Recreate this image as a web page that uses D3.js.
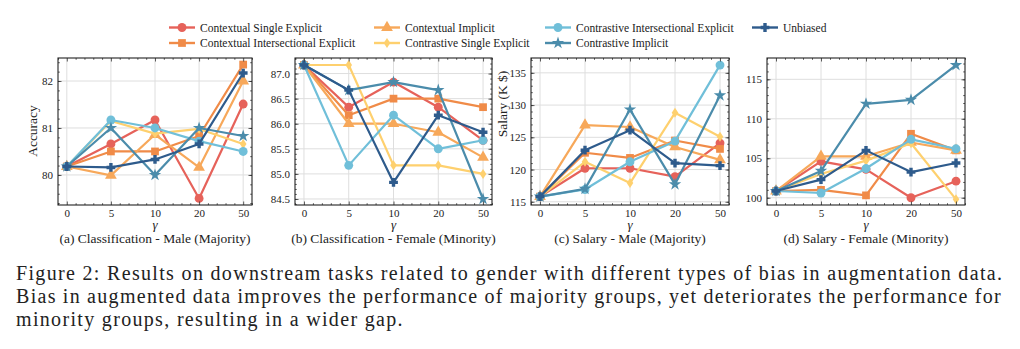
<!DOCTYPE html>
<html>
<head>
<meta charset="utf-8">
<script src="https://cdn.jsdelivr.net/npm/d3@7"></script>
<style>
  body { margin: 0; background: #fff; }
  text { font-family: "Liberation Serif", "DejaVu Serif", serif; fill: #222; }
</style>
</head>
<body>
<div id="chart"></div>
<script>
// data
var gammas = ["0", "5", "10", "20", "50"];
var seriesNames = [
  "Contextual Single Explicit",
  "Contextual Intersectional Explicit",
  "Contextual Implicit",
  "Contrastive Single Explicit",
  "Contrastive Intersectional Explicit",
  "Contrastive Implicit",
  "Unbiased"
];
// one row per series, one value per gamma
var clsMale = [
  [80.18, 80.66, 81.17, 79.50, 81.51],
  [80.18, 80.50, 80.50, 80.83, 82.35],
  [80.18, 79.99, 80.86, 80.16, 82.00],
  [80.18, 81.15, 80.88, 80.98, 80.66],
  [80.18, 81.17, 81.00, 80.72, 80.50],
  [80.18, 81.00, 80.00, 81.00, 80.83],
  [80.18, 80.16, 80.33, 80.66, 82.17]
];
var clsFemale = [
  [87.17, 86.33, 86.83, 86.33, 85.67],
  [87.17, 86.17, 86.50, 86.50, 86.33],
  [87.17, 86.00, 86.00, 85.83, 85.33],
  [87.17, 87.17, 85.17, 85.17, 85.00],
  [87.17, 85.17, 86.17, 85.50, 85.67],
  [87.17, 86.67, 86.83, 86.67, 84.50],
  [87.17, 86.67, 84.83, 86.17, 85.83]
];
var salMale = [
  [115.8, 120.2, 120.2, 118.9, 124.1],
  [115.8, 122.6, 121.8, 124.5, 123.2],
  [115.8, 126.9, 126.6, 123.5, 121.5],
  [115.8, 121.2, 117.9, 128.8, 125.1],
  [115.8, 116.9, 121.2, 124.4, 136.2],
  [115.8, 117.0, 129.3, 117.7, 131.5],
  [115.8, 123.0, 126.1, 121.0, 120.6]
];
var salFemale = [
  [100.85, 104.6, 103.6, 100.0, 102.1],
  [100.85, 101.0, 100.3, 108.1, 106.0],
  [100.85, 105.25, 105.25, 107.0, 106.0],
  [100.85, 103.0, 104.7, 106.9, 99.8],
  [100.85, 100.6, 103.7, 107.4, 106.2],
  [100.85, 103.4, 111.9, 112.4, 116.8],
  [100.85, 102.3, 106.0, 103.25, 104.4]
];
var accTicks = [80, 81, 82];
var accFTicks = [84.5, 85.0, 85.5, 86.0, 86.5, 87.0];
var salMTicks = [115, 120, 125, 130, 135];
var salFTicks = [100, 105, 110, 115];

// styles
var colors = ["#e6625a", "#f08b48", "#f7a85a", "#fed06e", "#70bfd9", "#4b8cab", "#2e5b8c"];
var width = 1020;
var height = 349;
var top0 = 58;
var bot0 = 205;

var svg = d3.select("#chart")
  .append("svg")
  .attr("width", width)
  .attr("height", height);

// marker shapes
function markerPath(i) {
  var sym;
  if (i === 0 || i === 4) sym = d3.symbol(d3.symbolCircle, 62);
  else if (i === 1) sym = d3.symbol(d3.symbolSquare, 60);
  else if (i === 2) sym = d3.symbol(d3.symbolTriangle, 60);
  else if (i === 5) sym = d3.symbol(d3.symbolStar, 48);
  else if (i === 6) return "M-1.7,-4.4h3.4v2.7h2.7v3.4h-2.7v2.7h-3.4v-2.7h-2.7v-3.4h2.7z";
  else return "M0,-5L3.3,0L0,5L-3.3,0Z";
  return sym();
}

var panels = [
  { x0: 58, x1: 252, data: clsMale, domain: [79.36, 82.49], ticks: accTicks, fmt: d3.format("d"),
    minor: 0.2, title: "(a) Classification - Male (Majority)", ylabel: "Accuracy", ly: 131 },
  { x0: 295, x1: 492, data: clsFemale, domain: [84.38, 87.31], ticks: accFTicks, fmt: d3.format(".1f"),
    minor: 0.1, title: "(b) Classification - Female (Minority)" },
  { x0: 531, x1: 729, data: salMale, domain: [114.5, 137.3], ticks: salMTicks, fmt: d3.format("d"),
    minor: 1, title: "(c) Salary - Male (Majority)", ylabel: "Salary (K $)", ly: 104 },
  { x0: 767, x1: 965, data: salFemale, domain: [99.08, 117.7], ticks: salFTicks, fmt: d3.format("d"),
    minor: 1, title: "(d) Salary - Female (Minority)" }
];

panels.forEach(function(p, pi) {
  var x = d3.scalePoint().domain(gammas).range([p.x0, p.x1]).padding(0.2);
  var xi = d3.scaleLinear().domain([-0.2, gammas.length - 0.8]).range([p.x0, p.x1]);
  var y = d3.scaleLinear().domain(p.domain).range([bot0, top0]);
  var g = svg.append("g");

  // grid
  g.selectAll(".hg").data(p.ticks).enter().append("line")
    .attr("x1", p.x0).attr("x2", p.x1)
    .attr("y1", function(d) { return y(d); }).attr("y2", function(d) { return y(d); })
    .attr("stroke", "#dedede").attr("stroke-width", 1);
  g.selectAll(".vg").data(gammas).enter().append("line")
    .attr("x1", function(d) { return x(d); }).attr("x2", function(d) { return x(d); })
    .attr("y1", top0).attr("y2", bot0)
    .attr("stroke", "#dedede").attr("stroke-width", 1);

  // clip to the axes box
  svg.append("clipPath").attr("id", "clip" + pi)
    .append("rect").attr("x", p.x0).attr("y", top0)
    .attr("width", p.x1 - p.x0).attr("height", bot0 - top0);

  var plot = g.append("g").attr("clip-path", "url(#clip" + pi + ")");
  var line = d3.line()
    .x(function(d, i) { return x(gammas[i]); })
    .y(function(d) { return y(d); });

  p.data.forEach(function(vals, si) {
    plot.append("path")
      .attr("d", line(vals))
      .attr("fill", "none")
      .attr("stroke", colors[si])
      .attr("stroke-width", 2.2)
      .attr("stroke-linejoin", "round");
    plot.selectAll(".m" + si).data(vals).enter().append("path")
      .attr("d", markerPath(si))
      .attr("transform", function(d, i) { return "translate(" + x(gammas[i]) + "," + y(d) + ")"; })
      .attr("fill", colors[si]);
  });

  // minor tick values
  var yMinor = d3.range(Math.ceil(p.domain[0] / p.minor), Math.floor(p.domain[1] / p.minor) + 1)
    .map(function(k) { return +(k * p.minor).toFixed(2); });
  var xMinor = d3.range(-1, 22).map(function(k) { return k * 0.2; })
    .filter(function(v) { return Math.abs(v - Math.round(v)) > 0.01; });

  // axes, ticks pointing in
  var left = g.append("g").attr("transform", "translate(" + p.x0 + ",0)")
    .call(d3.axisLeft(y).tickValues(p.ticks).tickFormat(p.fmt).tickSize(-3.5).tickPadding(5));
  g.append("g").attr("transform", "translate(" + p.x0 + ",0)")
    .call(d3.axisLeft(y).tickValues(yMinor).tickFormat("").tickSize(-1.8));
  g.append("g").attr("transform", "translate(" + p.x1 + ",0)")
    .call(d3.axisRight(y).tickValues(p.ticks).tickFormat("").tickSize(-3.5));
  g.append("g").attr("transform", "translate(" + p.x1 + ",0)")
    .call(d3.axisRight(y).tickValues(yMinor).tickFormat("").tickSize(-1.8));
  var bottom = g.append("g").attr("transform", "translate(0," + bot0 + ")")
    .call(d3.axisBottom(x).tickSize(-3.5).tickPadding(4));
  g.append("g").attr("transform", "translate(0," + bot0 + ")")
    .call(d3.axisBottom(xi).tickValues(xMinor).tickFormat("").tickSize(-1.8));
  g.append("g").attr("transform", "translate(0," + top0 + ")")
    .call(d3.axisTop(x).tickFormat("").tickSize(-3.5));
  g.append("g").attr("transform", "translate(0," + top0 + ")")
    .call(d3.axisTop(xi).tickValues(xMinor).tickFormat("").tickSize(-1.8));

  g.selectAll(".domain").remove();
  g.selectAll(".tick line").attr("stroke", "#333").attr("stroke-width", 0.8);
  left.selectAll("text").attr("font-size", 11).attr("font-family", "Liberation Serif");
  bottom.selectAll("text").attr("font-size", 11).attr("font-family", "Liberation Serif");

  // frame
  g.append("rect")
    .attr("x", p.x0).attr("y", top0)
    .attr("width", p.x1 - p.x0).attr("height", bot0 - top0)
    .attr("fill", "none").attr("stroke", "#222").attr("stroke-width", 1.1);

  var cx = (p.x0 + p.x1) / 2;
  g.append("text").attr("x", cx).attr("y", 229)
    .attr("text-anchor", "middle").attr("font-size", 13).attr("font-style", "italic")
    .text("γ");
  g.append("text").attr("x", cx).attr("y", 243)
    .attr("text-anchor", "middle").attr("font-size", 13.5)
    .text(p.title);
  if (p.ylabel) {
    var lx = p.x0 - (pi === 0 ? 21 : 24);
    g.append("text")
      .attr("transform", "translate(" + lx + "," + p.ly + ")rotate(-90)")
      .attr("text-anchor", "middle").attr("font-size", 13.5)
      .text(p.ylabel);
  }
});

// legend, four columns filled top to bottom
var legX = [169, 374, 545, 752];
var legY = [27.5, 43];
var leg = svg.append("g");
seriesNames.forEach(function(name, i) {
  var col = Math.floor(i / 2);
  var row = i % 2;
  var lx = legX[col];
  var ly = legY[row];
  leg.append("line")
    .attr("x1", lx).attr("x2", lx + 26)
    .attr("y1", ly).attr("y2", ly)
    .attr("stroke", colors[i]).attr("stroke-width", 2.4);
  leg.append("path")
    .attr("d", markerPath(i))
    .attr("transform", "translate(" + (lx + 13) + "," + ly + ")")
    .attr("fill", colors[i]);
  leg.append("text")
    .attr("x", lx + 31).attr("y", ly + 4)
    .attr("font-size", 11.5)
    .text(name);
});

// caption: the first line sets a letter spacing, the second is justified with word gaps
var capLines = [
  "Figure 2: Results on downstream tasks related to gender with different types of bias in augmentation data.",
  "Bias in augmented data improves the performance of majority groups, yet deteriorates the performance for",
  "minority groups, resulting in a wider gap."
];
var capW = 986;
var letterSp = 0;
capLines.forEach(function(t, i) {
  var tx = svg.append("text")
    .attr("x", 16).attr("y", 280 + i * 23)
    .attr("font-size", 20)
    .text(t);
  if (i === 0) {
    letterSp = (capW - tx.node().getComputedTextLength()) / (t.length - 1);
    tx.attr("letter-spacing", letterSp);
  } else {
    tx.attr("letter-spacing", letterSp);
    if (i === 1) {
      var gaps = t.split(" ").length - 1;
      var extra = (capW - tx.node().getComputedTextLength()) / gaps;
      tx.attr("word-spacing", extra);
    }
  }
});
</script>
</body>
</html>
